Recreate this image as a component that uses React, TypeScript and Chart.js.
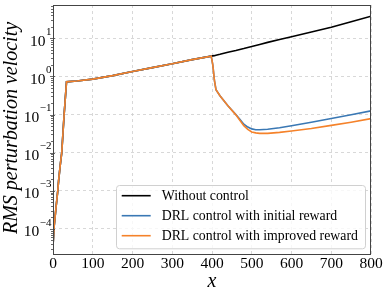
import React, { useEffect, useRef } from "react";
import { Chart, registerables } from "chart.js";

Chart.register(...registerables);

const xValues = [0, 3, 8, 12, 14, 18, 22, 28, 34, 40, 60, 100, 150, 200, 250, 300, 350, 398, 402, 406, 410, 420, 440, 460, 470, 480, 490, 500, 510, 520, 540, 570, 600, 650, 700, 750, 800];

const withoutControl = [3.5e-5, 1.2e-4, 4e-4, 1e-3, 1.8e-3, 4.5e-3, 1e-2, 0.1, 0.72, 0.73, 0.76, 0.85, 1.05, 1.35, 1.7, 2.15, 2.75, 3.4, 3.45, 3.5, 3.6, 3.8, 4.3, 4.8, 5.1, 5.4, 5.75, 6.1, 6.5, 6.9, 7.8, 9.3, 11.0, 14.6, 19.5, 27, 38];

const initialReward = [3.5e-5, 1.2e-4, 4e-4, 1e-3, 1.8e-3, 4.5e-3, 1e-2, 0.1, 0.72, 0.73, 0.76, 0.85, 1.05, 1.35, 1.7, 2.15, 2.75, 3.4, 2.0, 0.8, 0.45, 0.31, 0.17, 0.1, 0.075, 0.056, 0.047, 0.042, 0.040, 0.040, 0.041, 0.045, 0.051, 0.063, 0.079, 0.099, 0.125];

const improvedReward = [3.5e-5, 1.2e-4, 4e-4, 1e-3, 1.8e-3, 4.5e-3, 1e-2, 0.1, 0.72, 0.73, 0.76, 0.85, 1.05, 1.35, 1.7, 2.15, 2.75, 3.4, 2.0, 0.8, 0.45, 0.31, 0.17, 0.098, 0.071, 0.051, 0.041, 0.035, 0.033, 0.032, 0.032, 0.034, 0.037, 0.043, 0.052, 0.063, 0.078];

const seriesLabels = ["Without control", "DRL control with initial reward", "DRL control with improved reward"];
const seriesColors = ["#000000", "#3a78b4", "#f5822a"];
const xTicks = [0, 100, 200, 300, 400, 500, 600, 700, 800];
const yExponents = [-4, -3, -2, -1, 0, 1];

const SERIF = '"Liberation Serif", "Times New Roman", serif';

function points(ys: number[]) {
  return xValues.map((x, i) => ({ x, y: ys[i] }));
}

const overlay = {
  id: "overlay",
  afterDraw(chart: any) {
    const ctx = chart.ctx as CanvasRenderingContext2D;
    const area = chart.chartArea;
    const xs = chart.scales.x;
    const ys = chart.scales.y;
    ctx.save();

    // minor ticks on left axis
    ctx.strokeStyle = "#444";
    ctx.lineWidth = 0.8;
    for (let e = -5; e <= 1; e++) {
      for (let m = 2; m <= 9; m++) {
        const v = m * Math.pow(10, e);
        if (v < ys.min || v > ys.max) continue;
        const py = Math.round(ys.getPixelForValue(v)) + 0.5;
        ctx.beginPath();
        ctx.moveTo(area.left - 2, py);
        ctx.lineTo(area.left + 1, py);
        ctx.stroke();
      }
    }
    yExponents.forEach((e) => {
      const py = Math.round(ys.getPixelForValue(Math.pow(10, e))) + 0.5;
      ctx.beginPath();
      ctx.moveTo(area.left - 3, py);
      ctx.lineTo(area.left + 2, py);
      ctx.stroke();
    });

    // frame
    ctx.strokeStyle = "#444";
    ctx.lineWidth = 1;
    ctx.strokeRect(Math.round(area.left) + 0.5, Math.round(area.top) + 0.5, Math.round(area.right - area.left) - 1, Math.round(area.bottom - area.top));

    // x tick labels
    ctx.fillStyle = "#000";
    ctx.font = `15.5px ${SERIF}`;
    ctx.textAlign = "center";
    ctx.textBaseline = "alphabetic";
    xTicks.forEach((t) => {
      ctx.fillText(String(t), xs.getPixelForValue(t), area.bottom + 13.5);
    });

    // y tick labels 10^e
    yExponents.forEach((e) => {
      const py = ys.getPixelForValue(Math.pow(10, e));
      const expText = e < 0 ? "\u2212" + String(-e) : String(e);
      ctx.font = `11px ${SERIF}`;
      const ew = ctx.measureText(expText).width;
      ctx.font = `15.5px ${SERIF}`;
      const bw = ctx.measureText("10").width;
      const right = area.left - 1.5;
      ctx.textAlign = "left";
      ctx.fillText("10", right - ew - bw - 0.5, py + 7.4);
      ctx.font = `11px ${SERIF}`;
      ctx.fillText(expText, right - ew, py - 3.3);
    });

    // axis titles
    ctx.font = `italic 20px ${SERIF}`;
    ctx.textAlign = "center";
    ctx.fillText("x", (area.left + area.right) / 2, area.bottom + 32.5);
    ctx.save();
    ctx.translate(16.5, 128);
    ctx.rotate(-Math.PI / 2);
    ctx.fillText("RMS perturbation velocity", 0, 0);
    ctx.restore();

    // legend
    const lx = 116, ly = 185, lw = 249, lh = 63.3;
    ctx.beginPath();
    ctx.roundRect(lx + 0.5, ly + 0.5, lw, lh, 3);
    ctx.fillStyle = "rgba(255,255,255,0.8)";
    ctx.fill();
    ctx.strokeStyle = "#d0d0d0";
    ctx.lineWidth = 1;
    ctx.stroke();
    ctx.font = `13.8px ${SERIF}`;
    ctx.textAlign = "left";
    ctx.textBaseline = "middle";
    seriesLabels.forEach((lab, i) => {
      const ry = 195.7 + i * 20;
      ctx.strokeStyle = seriesColors[i];
      ctx.lineWidth = 1.6;
      ctx.beginPath();
      ctx.moveTo(121.7, ry);
      ctx.lineTo(150.7, ry);
      ctx.stroke();
      ctx.fillStyle = "#000";
      ctx.fillText(lab, 161.7, ry + 0.5);
    });
    ctx.restore();
  },
};

export default function App() {
  const ref = useRef<HTMLCanvasElement | null>(null);
  useEffect(() => {
    document.body.style.margin = "0";
    const canvas = ref.current!;
    const chart = new Chart(canvas, {
      type: "line",
      data: {
        datasets: [
          { label: seriesLabels[0], data: points(withoutControl), borderColor: seriesColors[0], borderWidth: 1.6, pointRadius: 0, tension: 0, order: 3 },
          { label: seriesLabels[1], data: points(initialReward), borderColor: seriesColors[1], borderWidth: 1.6, pointRadius: 0, tension: 0, order: 2 },
          { label: seriesLabels[2], data: points(improvedReward), borderColor: seriesColors[2], borderWidth: 1.6, pointRadius: 0, tension: 0, order: 1 },
        ],
      },
      options: {
        animation: false,
        responsive: false,
        devicePixelRatio: 1,
        layout: { padding: { left: 53, right: 15, top: 5, bottom: 37 } },
        plugins: { legend: { display: false }, tooltip: { enabled: false } },
        scales: {
          x: {
            type: "linear",
            min: 0,
            max: 800,
            ticks: { display: false, stepSize: 100 },
            grid: { color: "#cfcfcf", lineWidth: 0.8, drawTicks: false },
            border: { display: false, dash: [3, 3] },
          },
          y: {
            type: "logarithmic",
            min: 2.2e-5,
            max: 74.6,
            afterBuildTicks: (scale: any) => {
              scale.ticks = yExponents.map((e) => ({ value: Math.pow(10, e) }));
            },
            ticks: { display: false },
            grid: { color: "#cfcfcf", lineWidth: 0.8, drawTicks: false },
            border: { display: false, dash: [3, 3] },
          },
        },
      },
      plugins: [overlay],
    } as any);
    return () => chart.destroy();
  }, []);
  return (
    <div style={{ width: 386, height: 291 }}>
      <canvas ref={ref} width={386} height={291} style={{ display: "block", width: 386, height: 291 }} />
    </div>
  );
}
